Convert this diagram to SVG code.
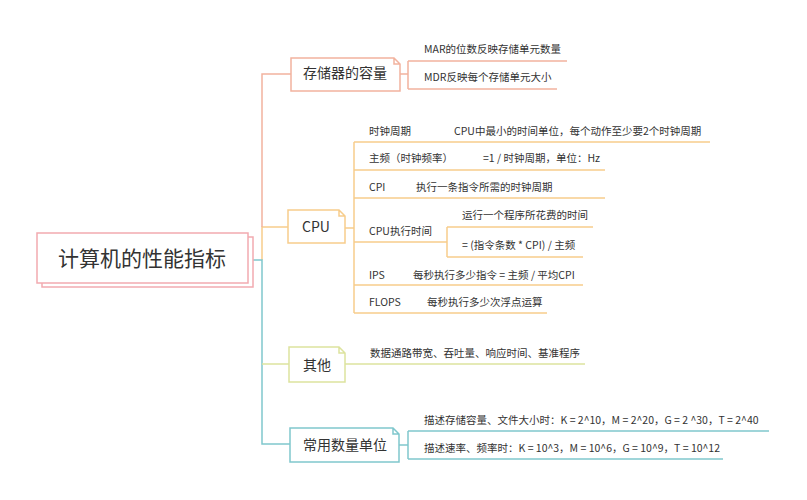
<svg xmlns="http://www.w3.org/2000/svg" width="807" height="500" viewBox="0 0 807 500">
<style>
text{font-family:"Noto Sans CJK SC","Liberation Sans",sans-serif;fill:#333;}
.t{font-size:10.5px;}
.n{font-size:14px;text-anchor:middle;}
.r{font-size:21px;text-anchor:middle;}
.c{fill:none;stroke-width:1.5;}
.sal{stroke:#f2b39f;}
.org{stroke:#f7cd8c;}
.yg{stroke:#dde39e;}
.tl{stroke:#80c7cd;}
.box{fill:#fff;stroke-width:1.5;}
</style>
<rect width="807" height="500" fill="#fff"/>
<g id="connectors">
<path class="c org" d="M262,260 V227 H288"/>
<path class="c sal" d="M262,227 V74 H291"/>
<path class="c tl" d="M253,260 H262 V444 H290"/>
<path class="c yg" d="M262,364 H289"/>
<path class="c sal" d="M400,74 H408 M408,61 V89 M408,61 H567 M408,89 H557"/>
<path class="c org" d="M345,228 H354 M354,142 V313 M354,142 H710 M354,170 H605 M354,198 H605 M354,242 H447 M447,227 V257 M447,227 H593 M447,257 H583 M354,285 H583 M354,313 H547"/>
<path class="c yg" d="M345,364 H585"/>
<path class="c tl" d="M399,445 H408 M408,431 V459 M408,431 H769 M408,459 H723"/>
</g>
<g id="root">
<rect x="42" y="237" width="211" height="50" fill="#fff" stroke="#f2aab0" stroke-width="1.5"/>
<rect x="37" y="233" width="211" height="50" fill="#fff" stroke="#f2aab0" stroke-width="1.5"/>
<text class="r" x="142" y="266">计算机的性能指标</text>
</g>
<g id="storage">
<path class="box sal" d="M291,58 H394 L400,64 V91 H291 Z M394,58 V64 H400"/>
<text class="n" x="345" y="78">存储器的容量</text>
<text class="t" x="424" y="53">MAR的位数反映存储单元数量</text>
<text class="t" x="424" y="81">MDR反映每个存储单元大小</text>
</g>
<g id="cpu">
<path class="box org" d="M288,210 H339 L345,216 V243 H288 Z M339,210 V216 H345"/>
<text class="n" x="316" y="232">CPU</text>
<text class="t" x="369" y="135">时钟周期</text>
<text class="t" x="454" y="135">CPU中最小的时间单位，每个动作至少要2个时钟周期</text>
<text class="t" x="369" y="162">主频（时钟频率）</text>
<text class="t" x="483" y="162">=1 / 时钟周期，单位：Hz</text>
<text class="t" x="369" y="191">CPI</text>
<text class="t" x="416" y="191">执行一条指令所需的时钟周期</text>
<text class="t" x="369" y="235">CPU执行时间</text>
<text class="t" x="462" y="219">运行一个程序所花费的时间</text>
<text class="t" x="462" y="249">= (指令条数 * CPI) / 主频</text>
<text class="t" x="369" y="279">IPS</text>
<text class="t" x="413" y="279">每秒执行多少指令 = 主频 / 平均CPI</text>
<text class="t" x="369" y="306">FLOPS</text>
<text class="t" x="427" y="306">每秒执行多少次浮点运算</text>
</g>
<g id="other">
<path class="box yg" d="M289,347 H339 L345,353 V382 H289 Z M339,347 V353 H345"/>
<text class="n" x="317" y="370">其他</text>
<text class="t" x="370" y="357">数据通路带宽、吞吐量、响应时间、基准程序</text>
</g>
<g id="units">
<path class="box tl" d="M290,428 H393 L399,434 V462 H290 Z M393,428 V434 H399"/>
<text class="n" x="345" y="450">常用数量单位</text>
<text class="t" x="424" y="424">描述存储容量、文件大小时：K = 2^10，M = 2^20，G = 2 ^30，T = 2^40</text>
<text class="t" x="424" y="452">描述速率、频率时：K = 10^3，M = 10^6，G = 10^9，T = 10^12</text>
</g>
</svg>
